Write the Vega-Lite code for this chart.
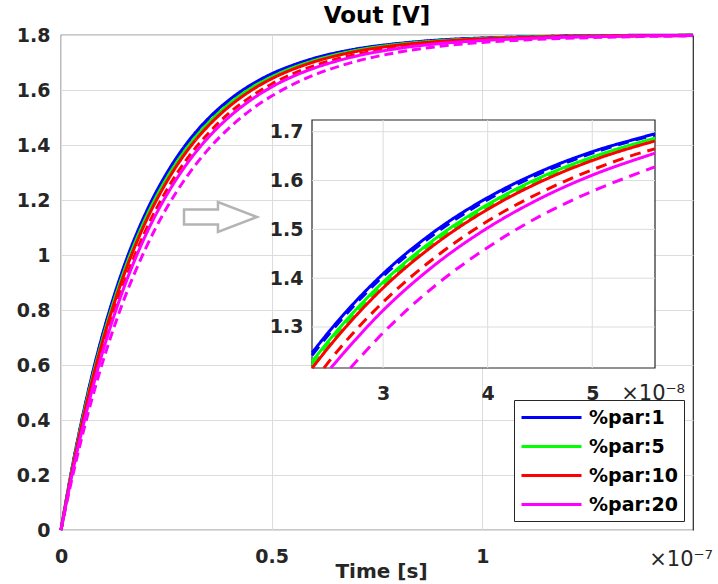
{
  "$schema": "https://vega.github.io/schema/vega-lite/v6.json",
  "width": 632,
  "height": 495,
  "autosize": {"type": "none"},
  "padding": {"left": 61, "top": 35, "right": 25, "bottom": 54},
  "background": "white",
  "config": {"view": {"stroke": "#262626", "strokeWidth": 1.2}, "font": "DejaVu Sans"},
  "title": {"text": "Vout [V]", "anchor": "middle", "offset": -25, "baseline": "bottom", "fontSize": 23, "fontWeight": "bold", "font": "DejaVu Sans", "color": "black"},
  "datasets": {
    "main": [
      {"t":0,"v":0,"par":"%par:1","style":"solid"},{"t":2.5e-9,"v":0.215,"par":"%par:1","style":"solid"},{"t":5e-9,"v":0.404,"par":"%par:1","style":"solid"},{"t":7.5e-9,"v":0.571,"par":"%par:1","style":"solid"},{"t":1e-8,"v":0.718,"par":"%par:1","style":"solid"},{"t":1.25e-8,"v":0.847,"par":"%par:1","style":"solid"},{"t":1.5e-8,"v":0.961,"par":"%par:1","style":"solid"},{"t":2e-8,"v":1.149,"par":"%par:1","style":"solid"},{"t":2.5e-8,"v":1.295,"par":"%par:1","style":"solid"},{"t":3e-8,"v":1.409,"par":"%par:1","style":"solid"},{"t":3.5e-8,"v":1.497,"par":"%par:1","style":"solid"},{"t":4e-8,"v":1.565,"par":"%par:1","style":"solid"},{"t":4.5e-8,"v":1.618,"par":"%par:1","style":"solid"},{"t":5e-8,"v":1.659,"par":"%par:1","style":"solid"},{"t":5.5e-8,"v":1.690,"par":"%par:1","style":"solid"},{"t":6e-8,"v":1.715,"par":"%par:1","style":"solid"},{"t":7e-8,"v":1.749,"par":"%par:1","style":"solid"},{"t":8e-8,"v":1.769,"par":"%par:1","style":"solid"},{"t":9e-8,"v":1.782,"par":"%par:1","style":"solid"},{"t":1e-7,"v":1.789,"par":"%par:1","style":"solid"},{"t":1.1e-7,"v":1.793,"par":"%par:1","style":"solid"},{"t":1.2e-7,"v":1.796,"par":"%par:1","style":"solid"},{"t":1.3e-7,"v":1.798,"par":"%par:1","style":"solid"},{"t":1.4e-7,"v":1.799,"par":"%par:1","style":"solid"},{"t":1.5e-7,"v":1.799,"par":"%par:1","style":"solid"},
      {"t":0,"v":0,"par":"%par:1","style":"dashed"},{"t":2.5e-9,"v":0.213,"par":"%par:1","style":"dashed"},{"t":5e-9,"v":0.402,"par":"%par:1","style":"dashed"},{"t":7.5e-9,"v":0.567,"par":"%par:1","style":"dashed"},{"t":1e-8,"v":0.714,"par":"%par:1","style":"dashed"},{"t":1.25e-8,"v":0.842,"par":"%par:1","style":"dashed"},{"t":1.5e-8,"v":0.956,"par":"%par:1","style":"dashed"},{"t":2e-8,"v":1.144,"par":"%par:1","style":"dashed"},{"t":2.5e-8,"v":1.290,"par":"%par:1","style":"dashed"},{"t":3e-8,"v":1.404,"par":"%par:1","style":"dashed"},{"t":3.5e-8,"v":1.492,"par":"%par:1","style":"dashed"},{"t":4e-8,"v":1.561,"par":"%par:1","style":"dashed"},{"t":4.5e-8,"v":1.614,"par":"%par:1","style":"dashed"},{"t":5e-8,"v":1.656,"par":"%par:1","style":"dashed"},{"t":5.5e-8,"v":1.688,"par":"%par:1","style":"dashed"},{"t":6e-8,"v":1.713,"par":"%par:1","style":"dashed"},{"t":7e-8,"v":1.747,"par":"%par:1","style":"dashed"},{"t":8e-8,"v":1.768,"par":"%par:1","style":"dashed"},{"t":9e-8,"v":1.781,"par":"%par:1","style":"dashed"},{"t":1e-7,"v":1.788,"par":"%par:1","style":"dashed"},{"t":1.1e-7,"v":1.793,"par":"%par:1","style":"dashed"},{"t":1.2e-7,"v":1.796,"par":"%par:1","style":"dashed"},{"t":1.3e-7,"v":1.798,"par":"%par:1","style":"dashed"},{"t":1.4e-7,"v":1.798,"par":"%par:1","style":"dashed"},{"t":1.5e-7,"v":1.799,"par":"%par:1","style":"dashed"},
      {"t":0,"v":0,"par":"%par:5","style":"solid"},{"t":2.5e-9,"v":0.209,"par":"%par:5","style":"solid"},{"t":5e-9,"v":0.394,"par":"%par:5","style":"solid"},{"t":7.5e-9,"v":0.558,"par":"%par:5","style":"solid"},{"t":1e-8,"v":0.702,"par":"%par:5","style":"solid"},{"t":1.25e-8,"v":0.830,"par":"%par:5","style":"solid"},{"t":1.5e-8,"v":0.943,"par":"%par:5","style":"solid"},{"t":2e-8,"v":1.131,"par":"%par:5","style":"solid"},{"t":2.5e-8,"v":1.277,"par":"%par:5","style":"solid"},{"t":3e-8,"v":1.392,"par":"%par:5","style":"solid"},{"t":3.5e-8,"v":1.481,"par":"%par:5","style":"solid"},{"t":4e-8,"v":1.551,"par":"%par:5","style":"solid"},{"t":4.5e-8,"v":1.606,"par":"%par:5","style":"solid"},{"t":5e-8,"v":1.648,"par":"%par:5","style":"solid"},{"t":5.5e-8,"v":1.681,"par":"%par:5","style":"solid"},{"t":6e-8,"v":1.707,"par":"%par:5","style":"solid"},{"t":7e-8,"v":1.744,"par":"%par:5","style":"solid"},{"t":8e-8,"v":1.766,"par":"%par:5","style":"solid"},{"t":9e-8,"v":1.779,"par":"%par:5","style":"solid"},{"t":1e-7,"v":1.787,"par":"%par:5","style":"solid"},{"t":1.1e-7,"v":1.792,"par":"%par:5","style":"solid"},{"t":1.2e-7,"v":1.795,"par":"%par:5","style":"solid"},{"t":1.3e-7,"v":1.797,"par":"%par:5","style":"solid"},{"t":1.4e-7,"v":1.798,"par":"%par:5","style":"solid"},{"t":1.5e-7,"v":1.799,"par":"%par:5","style":"solid"},
      {"t":0,"v":0,"par":"%par:5","style":"dashed"},{"t":2.5e-9,"v":0.207,"par":"%par:5","style":"dashed"},{"t":5e-9,"v":0.391,"par":"%par:5","style":"dashed"},{"t":7.5e-9,"v":0.553,"par":"%par:5","style":"dashed"},{"t":1e-8,"v":0.697,"par":"%par:5","style":"dashed"},{"t":1.25e-8,"v":0.824,"par":"%par:5","style":"dashed"},{"t":1.5e-8,"v":0.936,"par":"%par:5","style":"dashed"},{"t":2e-8,"v":1.124,"par":"%par:5","style":"dashed"},{"t":2.5e-8,"v":1.271,"par":"%par:5","style":"dashed"},{"t":3e-8,"v":1.386,"par":"%par:5","style":"dashed"},{"t":3.5e-8,"v":1.476,"par":"%par:5","style":"dashed"},{"t":4e-8,"v":1.546,"par":"%par:5","style":"dashed"},{"t":4.5e-8,"v":1.601,"par":"%par:5","style":"dashed"},{"t":5e-8,"v":1.644,"par":"%par:5","style":"dashed"},{"t":5.5e-8,"v":1.678,"par":"%par:5","style":"dashed"},{"t":6e-8,"v":1.705,"par":"%par:5","style":"dashed"},{"t":7e-8,"v":1.742,"par":"%par:5","style":"dashed"},{"t":8e-8,"v":1.764,"par":"%par:5","style":"dashed"},{"t":9e-8,"v":1.778,"par":"%par:5","style":"dashed"},{"t":1e-7,"v":1.787,"par":"%par:5","style":"dashed"},{"t":1.1e-7,"v":1.792,"par":"%par:5","style":"dashed"},{"t":1.2e-7,"v":1.795,"par":"%par:5","style":"dashed"},{"t":1.3e-7,"v":1.797,"par":"%par:5","style":"dashed"},{"t":1.4e-7,"v":1.798,"par":"%par:5","style":"dashed"},{"t":1.5e-7,"v":1.799,"par":"%par:5","style":"dashed"},
      {"t":0,"v":0,"par":"%par:10","style":"solid"},{"t":2.5e-9,"v":0.205,"par":"%par:10","style":"solid"},{"t":5e-9,"v":0.387,"par":"%par:10","style":"solid"},{"t":7.5e-9,"v":0.549,"par":"%par:10","style":"solid"},{"t":1e-8,"v":0.692,"par":"%par:10","style":"solid"},{"t":1.25e-8,"v":0.818,"par":"%par:10","style":"solid"},{"t":1.5e-8,"v":0.930,"par":"%par:10","style":"solid"},{"t":2e-8,"v":1.117,"par":"%par:10","style":"solid"},{"t":2.5e-8,"v":1.264,"par":"%par:10","style":"solid"},{"t":3e-8,"v":1.380,"par":"%par:10","style":"solid"},{"t":3.5e-8,"v":1.470,"par":"%par:10","style":"solid"},{"t":4e-8,"v":1.541,"par":"%par:10","style":"solid"},{"t":4.5e-8,"v":1.597,"par":"%par:10","style":"solid"},{"t":5e-8,"v":1.641,"par":"%par:10","style":"solid"},{"t":5.5e-8,"v":1.675,"par":"%par:10","style":"solid"},{"t":6e-8,"v":1.702,"par":"%par:10","style":"solid"},{"t":7e-8,"v":1.740,"par":"%par:10","style":"solid"},{"t":8e-8,"v":1.763,"par":"%par:10","style":"solid"},{"t":9e-8,"v":1.777,"par":"%par:10","style":"solid"},{"t":1e-7,"v":1.786,"par":"%par:10","style":"solid"},{"t":1.1e-7,"v":1.791,"par":"%par:10","style":"solid"},{"t":1.2e-7,"v":1.795,"par":"%par:10","style":"solid"},{"t":1.3e-7,"v":1.797,"par":"%par:10","style":"solid"},{"t":1.4e-7,"v":1.798,"par":"%par:10","style":"solid"},{"t":1.5e-7,"v":1.799,"par":"%par:10","style":"solid"},
      {"t":0,"v":0,"par":"%par:10","style":"dashed"},{"t":2.5e-9,"v":0.197,"par":"%par:10","style":"dashed"},{"t":5e-9,"v":0.372,"par":"%par:10","style":"dashed"},{"t":7.5e-9,"v":0.528,"par":"%par:10","style":"dashed"},{"t":1e-8,"v":0.667,"par":"%par:10","style":"dashed"},{"t":1.25e-8,"v":0.790,"par":"%par:10","style":"dashed"},{"t":1.5e-8,"v":0.901,"par":"%par:10","style":"dashed"},{"t":2e-8,"v":1.086,"par":"%par:10","style":"dashed"},{"t":2.5e-8,"v":1.234,"par":"%par:10","style":"dashed"},{"t":3e-8,"v":1.351,"par":"%par:10","style":"dashed"},{"t":3.5e-8,"v":1.443,"par":"%par:10","style":"dashed"},{"t":4e-8,"v":1.517,"par":"%par:10","style":"dashed"},{"t":4.5e-8,"v":1.575,"par":"%par:10","style":"dashed"},{"t":5e-8,"v":1.622,"par":"%par:10","style":"dashed"},{"t":5.5e-8,"v":1.659,"par":"%par:10","style":"dashed"},{"t":6e-8,"v":1.688,"par":"%par:10","style":"dashed"},{"t":7e-8,"v":1.729,"par":"%par:10","style":"dashed"},{"t":8e-8,"v":1.756,"par":"%par:10","style":"dashed"},{"t":9e-8,"v":1.772,"par":"%par:10","style":"dashed"},{"t":1e-7,"v":1.782,"par":"%par:10","style":"dashed"},{"t":1.1e-7,"v":1.789,"par":"%par:10","style":"dashed"},{"t":1.2e-7,"v":1.793,"par":"%par:10","style":"dashed"},{"t":1.3e-7,"v":1.796,"par":"%par:10","style":"dashed"},{"t":1.4e-7,"v":1.797,"par":"%par:10","style":"dashed"},{"t":1.5e-7,"v":1.798,"par":"%par:10","style":"dashed"},
      {"t":0,"v":0,"par":"%par:20","style":"solid"},{"t":2.5e-9,"v":0.192,"par":"%par:20","style":"solid"},{"t":5e-9,"v":0.363,"par":"%par:20","style":"solid"},{"t":7.5e-9,"v":0.516,"par":"%par:20","style":"solid"},{"t":1e-8,"v":0.653,"par":"%par:20","style":"solid"},{"t":1.25e-8,"v":0.775,"par":"%par:20","style":"solid"},{"t":1.5e-8,"v":0.884,"par":"%par:20","style":"solid"},{"t":2e-8,"v":1.069,"par":"%par:20","style":"solid"},{"t":2.5e-8,"v":1.216,"par":"%par:20","style":"solid"},{"t":3e-8,"v":1.334,"par":"%par:20","style":"solid"},{"t":3.5e-8,"v":1.428,"par":"%par:20","style":"solid"},{"t":4e-8,"v":1.503,"par":"%par:20","style":"solid"},{"t":4.5e-8,"v":1.563,"par":"%par:20","style":"solid"},{"t":5e-8,"v":1.611,"par":"%par:20","style":"solid"},{"t":5.5e-8,"v":1.649,"par":"%par:20","style":"solid"},{"t":6e-8,"v":1.679,"par":"%par:20","style":"solid"},{"t":7e-8,"v":1.723,"par":"%par:20","style":"solid"},{"t":8e-8,"v":1.751,"par":"%par:20","style":"solid"},{"t":9e-8,"v":1.769,"par":"%par:20","style":"solid"},{"t":1e-7,"v":1.780,"par":"%par:20","style":"solid"},{"t":1.1e-7,"v":1.787,"par":"%par:20","style":"solid"},{"t":1.2e-7,"v":1.792,"par":"%par:20","style":"solid"},{"t":1.3e-7,"v":1.795,"par":"%par:20","style":"solid"},{"t":1.4e-7,"v":1.797,"par":"%par:20","style":"solid"},{"t":1.5e-7,"v":1.798,"par":"%par:20","style":"solid"},
      {"t":0,"v":0,"par":"%par:20","style":"dashed"},{"t":2.5e-9,"v":0.179,"par":"%par:20","style":"dashed"},{"t":5e-9,"v":0.340,"par":"%par:20","style":"dashed"},{"t":7.5e-9,"v":0.485,"par":"%par:20","style":"dashed"},{"t":1e-8,"v":0.616,"par":"%par:20","style":"dashed"},{"t":1.25e-8,"v":0.734,"par":"%par:20","style":"dashed"},{"t":1.5e-8,"v":0.840,"par":"%par:20","style":"dashed"},{"t":2e-8,"v":1.021,"par":"%par:20","style":"dashed"},{"t":2.5e-8,"v":1.169,"par":"%par:20","style":"dashed"},{"t":3e-8,"v":1.288,"par":"%par:20","style":"dashed"},{"t":3.5e-8,"v":1.385,"par":"%par:20","style":"dashed"},{"t":4e-8,"v":1.463,"par":"%par:20","style":"dashed"},{"t":4.5e-8,"v":1.527,"par":"%par:20","style":"dashed"},{"t":5e-8,"v":1.578,"par":"%par:20","style":"dashed"},{"t":5.5e-8,"v":1.620,"par":"%par:20","style":"dashed"},{"t":6e-8,"v":1.654,"par":"%par:20","style":"dashed"},{"t":7e-8,"v":1.704,"par":"%par:20","style":"dashed"},{"t":8e-8,"v":1.737,"par":"%par:20","style":"dashed"},{"t":9e-8,"v":1.759,"par":"%par:20","style":"dashed"},{"t":1e-7,"v":1.773,"par":"%par:20","style":"dashed"},{"t":1.1e-7,"v":1.782,"par":"%par:20","style":"dashed"},{"t":1.2e-7,"v":1.788,"par":"%par:20","style":"dashed"},{"t":1.3e-7,"v":1.792,"par":"%par:20","style":"dashed"},{"t":1.4e-7,"v":1.795,"par":"%par:20","style":"dashed"},{"t":1.5e-7,"v":1.797,"par":"%par:20","style":"dashed"}
    ],
    "inset": [
      {"t":2.32e-8,"v":1.247,"par":"%par:1","style":"solid"},{"t":2.5e-8,"v":1.295,"par":"%par:1","style":"solid"},{"t":3e-8,"v":1.409,"par":"%par:1","style":"solid"},{"t":3.5e-8,"v":1.497,"par":"%par:1","style":"solid"},{"t":4e-8,"v":1.565,"par":"%par:1","style":"solid"},{"t":4.5e-8,"v":1.618,"par":"%par:1","style":"solid"},{"t":5e-8,"v":1.659,"par":"%par:1","style":"solid"},{"t":5.5e-8,"v":1.690,"par":"%par:1","style":"solid"},{"t":5.6e-8,"v":1.696,"par":"%par:1","style":"solid"},
      {"t":2.32e-8,"v":1.242,"par":"%par:1","style":"dashed"},{"t":2.5e-8,"v":1.290,"par":"%par:1","style":"dashed"},{"t":3e-8,"v":1.404,"par":"%par:1","style":"dashed"},{"t":3.5e-8,"v":1.492,"par":"%par:1","style":"dashed"},{"t":4e-8,"v":1.561,"par":"%par:1","style":"dashed"},{"t":4.5e-8,"v":1.614,"par":"%par:1","style":"dashed"},{"t":5e-8,"v":1.656,"par":"%par:1","style":"dashed"},{"t":5.5e-8,"v":1.688,"par":"%par:1","style":"dashed"},{"t":5.6e-8,"v":1.693,"par":"%par:1","style":"dashed"},
      {"t":2.32e-8,"v":1.229,"par":"%par:5","style":"solid"},{"t":2.5e-8,"v":1.277,"par":"%par:5","style":"solid"},{"t":3e-8,"v":1.392,"par":"%par:5","style":"solid"},{"t":3.5e-8,"v":1.481,"par":"%par:5","style":"solid"},{"t":4e-8,"v":1.551,"par":"%par:5","style":"solid"},{"t":4.5e-8,"v":1.606,"par":"%par:5","style":"solid"},{"t":5e-8,"v":1.648,"par":"%par:5","style":"solid"},{"t":5.5e-8,"v":1.681,"par":"%par:5","style":"solid"},{"t":5.6e-8,"v":1.687,"par":"%par:5","style":"solid"},
      {"t":2.32e-8,"v":1.222,"par":"%par:5","style":"dashed"},{"t":2.5e-8,"v":1.271,"par":"%par:5","style":"dashed"},{"t":3e-8,"v":1.386,"par":"%par:5","style":"dashed"},{"t":3.5e-8,"v":1.476,"par":"%par:5","style":"dashed"},{"t":4e-8,"v":1.546,"par":"%par:5","style":"dashed"},{"t":4.5e-8,"v":1.601,"par":"%par:5","style":"dashed"},{"t":5e-8,"v":1.644,"par":"%par:5","style":"dashed"},{"t":5.5e-8,"v":1.678,"par":"%par:5","style":"dashed"},{"t":5.6e-8,"v":1.684,"par":"%par:5","style":"dashed"},
      {"t":2.322e-8,"v":1.216,"par":"%par:10","style":"solid"},{"t":2.5e-8,"v":1.264,"par":"%par:10","style":"solid"},{"t":3e-8,"v":1.380,"par":"%par:10","style":"solid"},{"t":3.5e-8,"v":1.470,"par":"%par:10","style":"solid"},{"t":4e-8,"v":1.541,"par":"%par:10","style":"solid"},{"t":4.5e-8,"v":1.597,"par":"%par:10","style":"solid"},{"t":5e-8,"v":1.641,"par":"%par:10","style":"solid"},{"t":5.5e-8,"v":1.675,"par":"%par:10","style":"solid"},{"t":5.6e-8,"v":1.681,"par":"%par:10","style":"solid"},
      {"t":2.434e-8,"v":1.216,"par":"%par:10","style":"dashed"},{"t":2.5e-8,"v":1.234,"par":"%par:10","style":"dashed"},{"t":3e-8,"v":1.351,"par":"%par:10","style":"dashed"},{"t":3.5e-8,"v":1.443,"par":"%par:10","style":"dashed"},{"t":4e-8,"v":1.517,"par":"%par:10","style":"dashed"},{"t":4.5e-8,"v":1.575,"par":"%par:10","style":"dashed"},{"t":5e-8,"v":1.622,"par":"%par:10","style":"dashed"},{"t":5.5e-8,"v":1.659,"par":"%par:10","style":"dashed"},{"t":5.6e-8,"v":1.665,"par":"%par:10","style":"dashed"},
      {"t":2.499e-8,"v":1.216,"par":"%par:20","style":"solid"},{"t":3e-8,"v":1.334,"par":"%par:20","style":"solid"},{"t":3.5e-8,"v":1.428,"par":"%par:20","style":"solid"},{"t":4e-8,"v":1.503,"par":"%par:20","style":"solid"},{"t":4.5e-8,"v":1.563,"par":"%par:20","style":"solid"},{"t":5e-8,"v":1.611,"par":"%par:20","style":"solid"},{"t":5.5e-8,"v":1.649,"par":"%par:20","style":"solid"},{"t":5.6e-8,"v":1.656,"par":"%par:20","style":"solid"},
      {"t":2.687e-8,"v":1.216,"par":"%par:20","style":"dashed"},{"t":3e-8,"v":1.288,"par":"%par:20","style":"dashed"},{"t":3.5e-8,"v":1.385,"par":"%par:20","style":"dashed"},{"t":4e-8,"v":1.463,"par":"%par:20","style":"dashed"},{"t":4.5e-8,"v":1.527,"par":"%par:20","style":"dashed"},{"t":5e-8,"v":1.578,"par":"%par:20","style":"dashed"},{"t":5.5e-8,"v":1.620,"par":"%par:20","style":"dashed"},{"t":5.6e-8,"v":1.628,"par":"%par:20","style":"dashed"}
    ]
  },
  "layer": [
    {
      "layer": [
        {
          "data": {"name": "main"},
          "mark": {"type": "line", "strokeWidth": 3, "interpolate": "monotone"},
          "encoding": {
            "x": {"field": "t", "type": "quantitative", "scale": {"domain": [0, 1.5e-7], "nice": false, "zero": false},
                  "axis": {"orient": "bottom", "values": [0, 5e-8, 1e-7], "labelExpr": "format(datum.value*1e7, '~g')", "grid": true, "gridColor": "#dcdcdc", "gridWidth": 1, "domain": false, "ticks": false, "labelFlush": false, "labelOverlap": false, "labelFont": "DejaVu Sans", "labelFontSize": 19, "labelFontWeight": "bold", "labelColor": "#262626", "labelPadding": 17, "title": "Time [s]", "titleFont": "DejaVu Sans", "titleFontSize": 20, "titleFontWeight": "bold", "titleColor": "#262626", "titleX": 320, "titleY": 47, "titleBaseline": "alphabetic", "titleAlign": "center"}},
            "y": {"field": "v", "type": "quantitative", "scale": {"domain": [0, 1.8], "nice": false, "zero": false},
                  "axis": {"orient": "left", "values": [0, 0.2, 0.4, 0.6, 0.8, 1, 1.2, 1.4, 1.6, 1.8], "format": "~g", "grid": true, "gridColor": "#dcdcdc", "gridWidth": 1, "domain": false, "ticks": false, "labelFlush": false, "labelOverlap": false, "labelFont": "DejaVu Sans", "labelFontSize": 19, "labelFontWeight": "bold", "labelColor": "#262626", "labelPadding": 11, "title": null}},
            "color": {"field": "par", "type": "nominal",
                      "scale": {"domain": ["%par:1", "%par:5", "%par:10", "%par:20"], "range": ["#0000ff", "#00ff00", "#ff0000", "#ff00ff"]},
                      "legend": {"title": null, "orient": "bottom-right", "offset": 9, "strokeColor": "#262626", "fillColor": "white", "padding": 6, "symbolType": "M-1,0H5", "symbolSize": 400, "symbolStrokeWidth": 3, "labelFont": "DejaVu Sans", "labelFontSize": 19, "labelFontWeight": "bold", "labelColor": "black", "labelOffset": 46, "rowPadding": 7}},
            "strokeDash": {"field": "style", "type": "nominal", "scale": {"domain": ["solid", "dashed"], "range": [[1, 0], [9, 5]]}, "legend": null}
          }
        },
        {
          "data": {"values": [{}]},
          "mark": {"type": "point", "shape": "M-1,-0.205L-0.07,-0.205L-0.07,-0.41L1,0L-0.07,0.41L-0.07,0.205L-1,0.205Z", "size": 5329, "filled": true, "fill": "white", "stroke": "#b4b4b4", "strokeWidth": 2.5, "opacity": 1},
          "encoding": {
            "x": {"datum": 3.786e-8, "type": "quantitative", "scale": {"domain": [0, 1.5e-7], "nice": false, "zero": false}},
            "y": {"datum": 1.138, "type": "quantitative", "scale": {"domain": [0, 1.8], "nice": false, "zero": false}}
          }
        },
        {
          "data": {"values": [{}]},
          "mark": {"type": "text", "text": "×10⁻⁷", "align": "right", "baseline": "alphabetic", "dx": 20, "font": "DejaVu Sans", "fontSize": 21, "color": "#262626"},
          "encoding": {
            "x": {"datum": 1.5e-7, "type": "quantitative", "scale": {"domain": [0, 1.5e-7], "nice": false, "zero": false}},
            "y": {"datum": -0.13, "type": "quantitative", "scale": {"domain": [0, 1.8], "nice": false, "zero": false}}
          }
        }
      ]
    },
    {
      "layer": [
        {
          "data": {"values": [{}]},
          "mark": {"type": "rect", "fill": "white", "stroke": "#262626", "strokeWidth": 1.2},
          "encoding": {
            "x": {"datum": 2.32e-8, "type": "quantitative", "scale": {"domain": [2.32e-8, 5.6e-8], "range": [251, 594], "nice": false, "zero": false},
                  "axis": {"orient": "bottom", "offset": -162, "values": [3e-8, 4e-8, 5e-8], "labelExpr": "format(datum.value*1e8, '~g')", "grid": false, "domain": false, "ticks": false, "labelFlush": false, "labelOverlap": false, "labelFont": "DejaVu Sans", "labelFontSize": 19, "labelFontWeight": "bold", "labelColor": "#262626", "labelPadding": 16, "title": null, "zindex": 1}},
            "x2": {"datum": 5.6e-8},
            "y": {"datum": 1.216, "type": "quantitative", "scale": {"domain": [1.216, 1.724], "range": [333, 85], "nice": false, "zero": false},
                  "axis": {"orient": "left", "offset": -251, "values": [1.3, 1.4, 1.5, 1.6, 1.7], "format": "~g", "grid": false, "domain": false, "ticks": false, "labelFlush": false, "labelOverlap": false, "labelFont": "DejaVu Sans", "labelFontSize": 19, "labelFontWeight": "bold", "labelColor": "#262626", "labelPadding": 9, "title": null, "zindex": 1}},
            "y2": {"datum": 1.724}
          }
        },
        {
          "data": {"values": [{"t": 3e-8}, {"t": 4e-8}, {"t": 5e-8}]},
          "mark": {"type": "rule", "color": "#dcdcdc", "strokeWidth": 1},
          "encoding": {
            "x": {"field": "t", "type": "quantitative", "scale": {"domain": [2.32e-8, 5.6e-8], "range": [251, 594], "nice": false, "zero": false},
                  "axis": {"orient": "bottom", "offset": -162, "values": [3e-8, 4e-8, 5e-8], "labelExpr": "format(datum.value*1e8, '~g')", "grid": false, "domain": false, "ticks": false, "labelFlush": false, "labelOverlap": false, "labelFont": "DejaVu Sans", "labelFontSize": 19, "labelFontWeight": "bold", "labelColor": "#262626", "labelPadding": 16, "title": null, "zindex": 1}},
            "y": {"datum": 1.216, "type": "quantitative", "scale": {"domain": [1.216, 1.724], "range": [333, 85], "nice": false, "zero": false},
                  "axis": {"orient": "left", "offset": -251, "values": [1.3, 1.4, 1.5, 1.6, 1.7], "format": "~g", "grid": false, "domain": false, "ticks": false, "labelFlush": false, "labelOverlap": false, "labelFont": "DejaVu Sans", "labelFontSize": 19, "labelFontWeight": "bold", "labelColor": "#262626", "labelPadding": 9, "title": null, "zindex": 1}},
            "y2": {"datum": 1.724}
          }
        },
        {
          "data": {"values": [{"v": 1.3}, {"v": 1.4}, {"v": 1.5}, {"v": 1.6}, {"v": 1.7}]},
          "mark": {"type": "rule", "color": "#dcdcdc", "strokeWidth": 1},
          "encoding": {
            "x": {"datum": 2.32e-8, "type": "quantitative", "scale": {"domain": [2.32e-8, 5.6e-8], "range": [251, 594], "nice": false, "zero": false},
                  "axis": {"orient": "bottom", "offset": -162, "values": [3e-8, 4e-8, 5e-8], "labelExpr": "format(datum.value*1e8, '~g')", "grid": false, "domain": false, "ticks": false, "labelFlush": false, "labelOverlap": false, "labelFont": "DejaVu Sans", "labelFontSize": 19, "labelFontWeight": "bold", "labelColor": "#262626", "labelPadding": 16, "title": null, "zindex": 1}},
            "x2": {"datum": 5.6e-8},
            "y": {"field": "v", "type": "quantitative", "scale": {"domain": [1.216, 1.724], "range": [333, 85], "nice": false, "zero": false},
                  "axis": {"orient": "left", "offset": -251, "values": [1.3, 1.4, 1.5, 1.6, 1.7], "format": "~g", "grid": false, "domain": false, "ticks": false, "labelFlush": false, "labelOverlap": false, "labelFont": "DejaVu Sans", "labelFontSize": 19, "labelFontWeight": "bold", "labelColor": "#262626", "labelPadding": 9, "title": null, "zindex": 1}}
          }
        },
        {
          "data": {"name": "inset"},
          "mark": {"type": "line", "strokeWidth": 3, "interpolate": "monotone"},
          "encoding": {
            "x": {"field": "t", "type": "quantitative", "scale": {"domain": [2.32e-8, 5.6e-8], "range": [251, 594], "nice": false, "zero": false},
                  "axis": {"orient": "bottom", "offset": -162, "values": [3e-8, 4e-8, 5e-8], "labelExpr": "format(datum.value*1e8, '~g')", "grid": false, "domain": false, "ticks": false, "labelFlush": false, "labelOverlap": false, "labelFont": "DejaVu Sans", "labelFontSize": 19, "labelFontWeight": "bold", "labelColor": "#262626", "labelPadding": 16, "title": null, "zindex": 1}},
            "y": {"field": "v", "type": "quantitative", "scale": {"domain": [1.216, 1.724], "range": [333, 85], "nice": false, "zero": false},
                  "axis": {"orient": "left", "offset": -251, "values": [1.3, 1.4, 1.5, 1.6, 1.7], "format": "~g", "grid": false, "domain": false, "ticks": false, "labelFlush": false, "labelOverlap": false, "labelFont": "DejaVu Sans", "labelFontSize": 19, "labelFontWeight": "bold", "labelColor": "#262626", "labelPadding": 9, "title": null, "zindex": 1}},
            "color": {"field": "par", "type": "nominal",
                      "scale": {"domain": ["%par:1", "%par:5", "%par:10", "%par:20"], "range": ["#0000ff", "#00ff00", "#ff0000", "#ff00ff"]},
                      "legend": null},
            "strokeDash": {"field": "style", "type": "nominal", "scale": {"domain": ["solid", "dashed"], "range": [[1, 0], [11, 7]]}, "legend": null}
          }
        },
        {
          "data": {"values": [{}]},
          "mark": {"type": "text", "text": "×10⁻⁸", "align": "right", "baseline": "alphabetic", "dx": 30, "font": "DejaVu Sans", "fontSize": 21, "color": "#262626"},
          "encoding": {
            "x": {"datum": 5.6e-8, "type": "quantitative", "scale": {"domain": [2.32e-8, 5.6e-8], "range": [251, 594], "nice": false, "zero": false},
                  "axis": {"orient": "bottom", "offset": -162, "values": [3e-8, 4e-8, 5e-8], "labelExpr": "format(datum.value*1e8, '~g')", "grid": false, "domain": false, "ticks": false, "labelFlush": false, "labelOverlap": false, "labelFont": "DejaVu Sans", "labelFontSize": 19, "labelFontWeight": "bold", "labelColor": "#262626", "labelPadding": 16, "title": null, "zindex": 1}},
            "y": {"datum": 1.15, "type": "quantitative", "scale": {"domain": [1.216, 1.724], "range": [333, 85], "nice": false, "zero": false},
                  "axis": {"orient": "left", "offset": -251, "values": [1.3, 1.4, 1.5, 1.6, 1.7], "format": "~g", "grid": false, "domain": false, "ticks": false, "labelFlush": false, "labelOverlap": false, "labelFont": "DejaVu Sans", "labelFontSize": 19, "labelFontWeight": "bold", "labelColor": "#262626", "labelPadding": 9, "title": null, "zindex": 1}}
          }
        }
      ]
    }
  ],
  "resolve": {"scale": {"x": "independent", "y": "independent", "color": "independent", "strokeDash": "independent"}, "axis": {"x": "independent", "y": "independent"}}
}
